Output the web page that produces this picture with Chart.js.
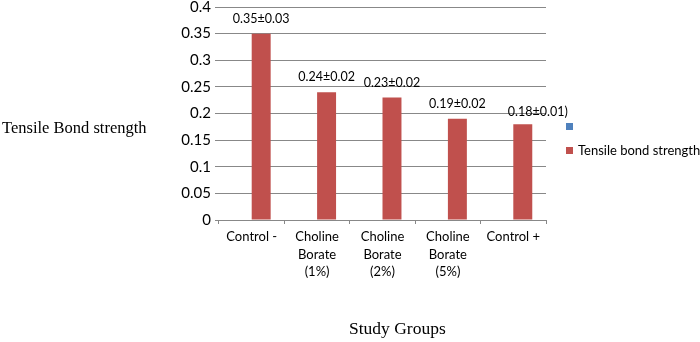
<!DOCTYPE html>
<html>
<head>
<meta charset="utf-8">
<script src="https://cdn.jsdelivr.net/npm/chart.js@4"></script>
<style>
  html, body { margin: 0; padding: 0; background: #fff; }
  #wrap { position: relative; width: 700px; height: 342px; overflow: hidden; }
  #chart { position: absolute; left: 0; top: -6px; }
  .serif { position: absolute; font-family: "Liberation Serif", serif; color: #000; white-space: nowrap; }
  #ytitle { left: 2px; top: 118px; font-size: 16.5px; }
  #xtitle { left: 349px; top: 318px; font-size: 17.5px; }
  #legend { position: absolute; left: 566px; top: 117px; font-family: Lato, sans-serif; font-size: 13px; color: #000; white-space: nowrap; }
  .item { display: flex; align-items: center; height: 18px; margin-bottom: 6px; }
  .sw { width: 7px; height: 7px; margin-right: 5px; flex: none; }
</style>
</head>
<body>
<div id="wrap">
  <canvas id="chart" width="700" height="348"></canvas>
  <div id="ytitle" class="serif">Tensile Bond strength</div>
  <div id="xtitle" class="serif">Study Groups</div>
  <div id="legend">
    <div class="item"><span class="sw" style="background:#4F81BD"></span><span></span></div>
    <div class="item"><span class="sw" style="background:#C0504D"></span><span>Tensile bond strength</span></div>
  </div>
</div>
<script>
const categories = [
  ['Control -'],
  ['Choline', 'Borate', '(1%)'],
  ['Choline', 'Borate', '(2%)'],
  ['Choline', 'Borate', '(5%)'],
  ['Control +']
];
// first series is empty in the source chart (only shows in the legend)
const emptySeries = [null, null, null, null, null];
const strengthValues = [0.35, 0.24, 0.23, 0.19, 0.18];
const errorLabels = ['0.35±0.03', '0.24±0.02', '0.23±0.02', '0.19±0.02', '0.18±0.01)'];
const yTicks = [0, 0.05, 0.1, 0.15, 0.2, 0.25, 0.3, 0.35, 0.4];

// draw the mean ± sd text above each red bar
const valueLabels = {
  id: 'valueLabels',
  afterDatasetsDraw(chart) {
    const ctx = chart.ctx;
    const meta = chart.getDatasetMeta(1);
    ctx.save();
    ctx.font = '12.5px Lato, sans-serif';
    ctx.fillStyle = '#000';
    ctx.textAlign = 'center';
    ctx.textBaseline = 'middle';
    meta.data.forEach((bar, i) => {
      let dx = 0, dy = -15;
      if (i === meta.data.length - 1) { dx = 15; dy = -12; }
      ctx.fillText(errorLabels[i], bar.x + dx, bar.y + dy);
    });
    ctx.restore();
  }
};

new Chart(document.getElementById('chart'), {
  type: 'bar',
  data: {
    labels: categories,
    datasets: [{
      label: '',
      data: emptySeries,
      backgroundColor: '#4F81BD',
      barPercentage: 1.0,
      categoryPercentage: 0.58
    }, {
      label: 'Tensile bond strength',
      data: strengthValues,
      backgroundColor: '#C0504D',
      barPercentage: 1.0,
      categoryPercentage: 0.58
    }]
  },
  options: {
    responsive: false,
    animation: false,
    layout: { padding: { left: 170, top: 0, right: 154, bottom: 0 } },
    plugins: { legend: { display: false }, tooltip: { enabled: false } },
    scales: {
      x: {
        grid: { display: true, drawOnChartArea: false, drawTicks: true, tickLength: 4, offset: true, color: '#888' },
        border: { display: true, color: '#888' },
        ticks: { color: '#000', font: { family: 'Lato', size: 13, lineHeight: 1.35 }, maxRotation: 0, autoSkip: false, padding: 4 },
        afterFit(scale) { scale.height = 122; }
      },
      y: {
        min: 0,
        max: 0.4,
        afterBuildTicks(scale) { scale.ticks = yTicks.map(v => ({ value: v })); },
        grid: { color: '#888', tickLength: 4 },
        border: { display: false },
        ticks: {
          color: '#000',
          font: { family: 'Lato', size: 15 },
          padding: 4,
          callback: v => String(+v.toFixed(2))
        },
        afterFit(scale) { scale.width = 49; }
      }
    }
  },
  plugins: [valueLabels]
});
</script>
</body>
</html>
